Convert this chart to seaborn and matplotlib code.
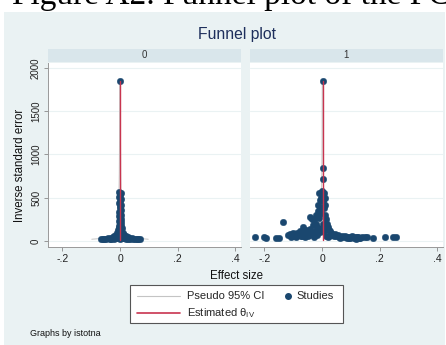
import numpy as np
import pandas as pd
import matplotlib
matplotlib.use("Agg")
import matplotlib.pyplot as plt
from matplotlib.patches import Rectangle
from matplotlib.lines import Line2D
import seaborn as sns

sns.set_theme(style="white")
plt.rcParams['font.family'] = ['Liberation Sans', 'DejaVu Sans']
plt.rcParams['mathtext.fontset'] = 'custom'
plt.rcParams['mathtext.rm'] = 'Liberation Sans'
plt.rcParams['mathtext.it'] = 'Liberation Sans:italic'

# ---------------- data ----------------
panels = ["0", "1"]

eff0 = [0.000, -0.002, 0.002, 0.000, -0.003, 0.003, 0.001, -0.002, 0.002, 0.000,
        -0.001, 0.002, -0.003, 0.001, 0.003, -0.002, 0.000, 0.004, -0.004, 0.002,
        -0.001, 0.005, -0.005, 0.001, 0.007, -0.007, 0.003, -0.002, 0.010, -0.010,
        0.005, -0.005, 0.014, -0.015, 0.000, 0.020, -0.020, 0.008, -0.010, 0.026,
        -0.026, 0.032, -0.033, 0.015, -0.015, 0.040, -0.040, 0.046, -0.048, 0.052,
        -0.055, 0.058, -0.060, 0.064, -0.066, 0.068, 0.022, -0.022, 0.035, -0.035,
        0.000, 0.010, -0.008, 0.018, -0.012, 0.028, -0.030, 0.005, -0.004, 0.012]
prec0 = [1850, 570, 555, 530, 510, 490, 460, 440, 420, 400,
         380, 360, 340, 320, 300, 285, 270, 250, 235, 220,
         205, 190, 175, 160, 145, 130, 118, 105, 95, 90,
         80, 75, 70, 65, 60, 55, 52, 48, 45, 42,
         40, 36, 35, 33, 32, 30, 30, 28, 27, 26,
         25, 25, 24, 24, 23, 23, 24, 25, 22, 22,
         25, 30, 35, 38, 40, 28, 26, 110, 150, 55]

eff1 = [0.002, -0.232, -0.203, -0.195, -0.160, -0.150, -0.136,
        -0.118, -0.112, -0.105, -0.100, -0.095, -0.090, -0.086, -0.082, -0.078, -0.074,
        -0.070, -0.066, -0.063, -0.060, -0.056, -0.052, -0.048, -0.045, -0.042, -0.040,
        -0.036, -0.034, -0.030, -0.027, -0.025, -0.022, -0.020, -0.017, -0.015, -0.013,
        -0.011, -0.010, -0.008, -0.006, -0.005, -0.003, -0.002, 0.000, 0.002, 0.003,
        0.004, 0.005, 0.006, 0.008, 0.010, 0.012, 0.012, 0.015, 0.018, 0.020,
        0.023, 0.026, 0.030, 0.034, 0.038, 0.042, 0.046, 0.050, 0.055, 0.060,
        0.065, 0.070, 0.075, 0.080, 0.085, 0.090, 0.095, 0.100, 0.105, 0.110,
        0.115, 0.120, 0.125, 0.132, 0.140, 0.148, 0.155, 0.178, 0.219, 0.248, 0.256,
        -0.028, -0.018, -0.008, 0.000, 0.005, 0.008, 0.015, 0.020, 0.025,
        -0.108, -0.092, -0.072, -0.058, -0.044, 0.062, 0.088, 0.098, 0.118, 0.128]
prec1 = [1850, 40, 42, 30, 35, 33, 220,
         70, 85, 60, 90, 72, 55, 95, 65, 110, 80,
         60, 165, 100, 75, 130, 90, 60, 110, 275, 140,
         255, 90, 180, 240, 120, 200, 300, 160, 418, 350,
         260, 555, 470, 390, 560, 320, 500, 580, 845, 720,
         560, 460, 380, 560, 500, 420, 300, 250, 200, 160,
         130, 110, 90, 80, 70, 60, 75, 55, 65, 50,
         45, 60, 40, 55, 40, 50, 35, 45, 55, 35,
         45, 40, 50, 35, 45, 40, 50, 35, 45, 42, 45,
         50, 70, 100, 150, 200, 120, 60, 45, 55,
         50, 45, 55, 45, 70, 35, 30, 30, 28, 32]

theta = [0.000, 0.002]          # estimated effect per panel
prec_min = [20, 20]             # lower end of pseudo CI / estimate line
prec_max = [1850, 1850]         # upper end

xticks = [-0.2, 0.0, 0.2, 0.4]
xticklabels = ["-.2", "0", ".2", ".4"]
yticks = [0, 500, 1000, 1500, 2000]
yticklabels = ["0", "500", "1000", "1500", "2000"]

legend_labels = ["Pseudo 95% CI", r"Estimated θ$_{\mathrm{IV}}$", "Studies"]

# ---------------- style ----------------
W, H = 446, 345
BG = "#eaf2f3"
STRIP = "#d9e6eb"
NAVY = "#1a476f"
RED = "#c8344f"
CI = "#c4c4c4"

fig = plt.figure(figsize=(W / 100, H / 100), dpi=100)
fig.patch.set_facecolor("white")
fig.add_artist(Rectangle((4 / W, 0), 441 / W, (H - 12) / H, transform=fig.transFigure,
                         facecolor=BG, edgecolor="none", zorder=-10))

def fx(px):
    return px / W

def fy(py):
    return 1 - py / H

effs = [eff0, eff1]
precs = [prec0, prec1]
lefts = [48, 250]
for i in range(2):
    ax = fig.add_axes([fx(lefts[i]), fy(247), 193 / W, (247 - 63) / H])
    ax.set_facecolor("white")
    df = pd.DataFrame({"eff": effs[i], "prec": precs[i]})
    # pseudo CI
    pgrid = np.geomspace(prec_min[i], prec_max[i], 200)
    ax.plot(theta[i] - 1.96 / pgrid, pgrid, color=CI, lw=0.7, zorder=2)
    ax.plot(theta[i] + 1.96 / pgrid, pgrid, color=CI, lw=0.7, zorder=2)
    # estimate line
    est = pd.DataFrame({"x": [theta[i], theta[i]], "prec": [prec_min[i] - 10, prec_max[i]]})
    sns.lineplot(data=est, x="x", y="prec", ax=ax, color=RED, lw=1.0, zorder=4,
                 sort=False, estimator=None)
    sns.scatterplot(data=df, x="eff", y="prec", ax=ax, color=NAVY, s=22,
                    edgecolor=NAVY, linewidth=0.3, zorder=3)
    ax.set_xlim(-0.25, 0.42)
    ax.set_ylim(-70, 2058)
    ax.set_xticks(xticks)
    ax.set_xticklabels(xticklabels, fontsize=7.5, color="#222222")
    ax.set_yticks(yticks)
    if i == 0:
        ax.set_yticklabels(yticklabels, fontsize=7, color="#222222", rotation=90, va="center")
        ax.tick_params(axis="y", length=3, width=0.6, color="#888888", pad=2, left=True)
    else:
        ax.set_yticklabels([])
        ax.tick_params(axis="y", length=0)
    ax.tick_params(axis="x", length=3, width=0.6, color="#888888", pad=2, bottom=True)
    for y in yticks:
        ax.axhline(y, color=BG, lw=0.8, zorder=1)
    for s in ["top", "right"]:
        ax.spines[s].set_visible(False)
    ax.spines["bottom"].set_color("#999999")
    ax.spines["bottom"].set_linewidth(0.7)
    if i == 0:
        ax.spines["left"].set_color("#999999")
        ax.spines["left"].set_linewidth(0.7)
    else:
        ax.spines["left"].set_visible(False)
    ax.set_xlabel("")
    ax.set_ylabel("")
    ax.grid(False)
    # strip
    sax = fig.add_axes([fx(lefts[i]), fy(62), 193 / W, 13 / H])
    sax.set_facecolor(STRIP)
    sax.set_xticks([]); sax.set_yticks([])
    for s in sax.spines.values():
        s.set_visible(False)
    sax.text(0.5, 0.5, panels[i], ha="center", va="center", fontsize=7, color="#333333",
             transform=sax.transAxes)

# texts
fig.text(fx(12), fy(4), "Figure A2. Funnel plot of the PCC", family="Liberation Serif",
         fontsize=24, color="black", va="baseline", ha="left")
fig.text(fx(237), fy(34), "Funnel plot", fontsize=11.3, color="#1e2f5c", ha="center", va="center")
fig.text(fx(20), fy(165), "Inverse standard error", fontsize=8.3, rotation=90,
         ha="center", va="center", color="#111111")
fig.text(fx(237), fy(276), "Effect size", fontsize=8.3, ha="center", va="center", color="#111111")
fig.text(fx(30), fy(334), "Graphs by istotna", fontsize=6.5, ha="left", va="center", color="#111111")

# legend (drawn manually in figure coordinates)
fig.add_artist(Rectangle((fx(130), fy(323)), 213 / W, 38 / H, transform=fig.transFigure,
                         facecolor="white", edgecolor="#555555", lw=0.8, zorder=5))
fig.add_artist(Line2D([fx(137), fx(180)], [fy(296), fy(296)], transform=fig.transFigure,
                      color=CI, lw=0.8, zorder=6))
fig.add_artist(Line2D([fx(137), fx(180)], [fy(313), fy(313)], transform=fig.transFigure,
                      color=RED, lw=1.2, zorder=6))
fig.add_artist(Line2D([fx(288)], [fy(296)], transform=fig.transFigure, color=NAVY,
                      marker="o", markersize=4, ls="none", zorder=6))
fig.text(fx(187), fy(296), legend_labels[0], fontsize=8, va="center", ha="left", zorder=7)
fig.text(fx(187), fy(313), legend_labels[1], fontsize=8, va="center", ha="left", zorder=7)
fig.text(fx(296), fy(296), legend_labels[2], fontsize=8, va="center", ha="left", zorder=7)

fig.savefig("out.png", dpi=100)
